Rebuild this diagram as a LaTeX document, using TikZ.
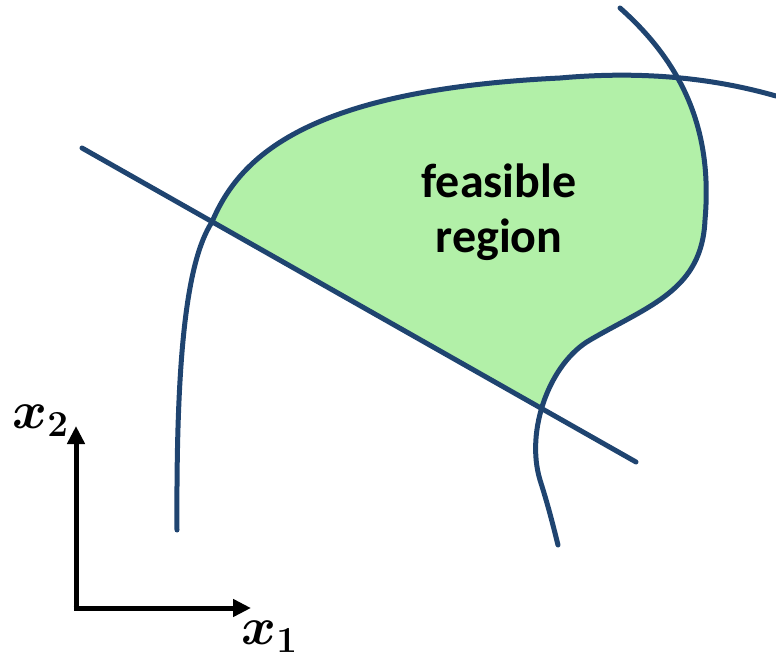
\documentclass[tikz,border=0pt]{standalone}
\usepackage{fontspec}
\usepackage{amsmath}
\usepackage{xcolor}
\newfontfamily\regionfont{Carlito}
\usetikzlibrary{arrows.meta, positioning}

\definecolor{curveblue}{RGB}{31,68,112}
\definecolor{regiongreen}{RGB}{178,240,168}

\begin{document}
\begin{tikzpicture}[
    x=1pt, y=-1pt,
    boundary/.style={draw=curveblue, line width=5pt, line cap=round},
    axis/.style={draw=black, line width=5pt, -{Triangle[length=18pt, width=17pt]}},
    axlabel/.style={font=\fontsize{20}{24}\selectfont\boldmath, scale=2.55, inner sep=0pt},
    regiontext/.style={font=\regionfont\bfseries\fontsize{48}{55}\selectfont, align=center}
]
\useasboundingbox (0,0) rectangle (776,660);

% Constraint curves (kept as macros so fill and stroke agree)
\def\leftcurve{(177,530) .. controls (176,360) and (186,262) .. (212,222)
    .. controls (240,155) and (310,90) .. (560,78)
    .. controls (650,70) and (720,80) .. (776,96)}
\def\rightcurve{(620,8) .. controls (690,70) and (712,140) .. (705,220)
    .. controls (702,290) and (650,305) .. (590,340)
    .. controls (550,363) and (525,430) .. (540,480)
    .. controls (548,505) and (553,525) .. (558,545)}

% Feasible region: intersection of the three half planes
\begin{scope}
    \clip \leftcurve -- (776,660) -- (177,660) -- cycle;
    \clip \rightcurve -- (0,545) -- (0,8) -- cycle;
    \clip (0,101.5) -- (776,541.1) -- (776,0) -- (0,0) -- cycle;
    \fill[regiongreen] (0,0) rectangle (776,660);
\end{scope}

% Boundaries
\coordinate (lineA) at (82,148);
\coordinate (lineB) at (636,462);
\draw[boundary] \leftcurve;
\draw[boundary] \rightcurve;
\draw[boundary] (lineA) -- (lineB);

\node[regiontext] (region) at (499,212) {feasible\\region};

% Axes
\coordinate (origin) at (76,608);
\coordinate (ytip) at (76,426);
\coordinate (xtip) at (251,608);
\draw[axis] ([yshift=2.5pt]origin) -- (ytip);
\draw[axis] ([xshift=-2.5pt]origin) -- (xtip);
\node[axlabel] (xtwo) at (41,421) {$x_2$};
\node[axlabel] (xone) at (270,637) {$x_1$};

\end{tikzpicture}
\end{document}
